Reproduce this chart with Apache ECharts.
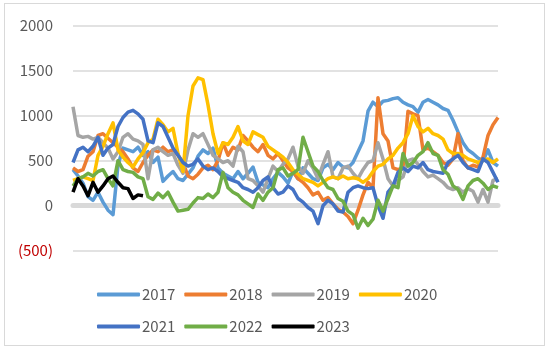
<!DOCTYPE html>
<html>
<head>
<meta charset="utf-8">
<script src="https://cdn.jsdelivr.net/npm/echarts@6/dist/echarts.min.js"></script>
<style>
html,body{margin:0;padding:0;background:#fff;}
#frame{position:absolute;left:4px;top:3px;width:541px;height:343px;border:1px solid #D9D9D9;box-sizing:border-box;}
#c{position:absolute;left:0;top:0;width:550px;height:351px;}
</style>
</head>
<body>
<div id="frame"></div>
<div id="c"></div>
<script>
var years = ['2017','2018','2019','2020','2021','2022','2023'];
var yTicks = [-500, 0, 500, 1000, 1500, 2000];
var s2017 = [400,330,250,100,60,150,40,-50,-100,450,640,620,600,650,560,600,480,540,270,330,380,300,280,350,420,550,620,580,640,420,360,330,300,380,300,360,430,260,230,200,300,370,320,250,380,300,420,360,300,280,420,460,400,480,430,420,480,600,720,1050,1150,1100,1160,1170,1190,1200,1150,1120,1100,1040,1150,1180,1150,1120,1080,1060,950,820,700,620,580,530,500,620,480,440];
var s2018 = [420,380,400,550,600,780,800,750,700,650,600,520,420,380,480,560,620,600,650,600,620,560,480,330,300,350,420,450,400,500,700,560,650,620,780,720,650,600,680,560,520,580,500,420,380,300,260,200,120,150,60,90,20,-40,-70,-120,-200,-50,120,260,200,1200,800,720,420,400,420,1050,1020,1000,620,640,600,560,480,450,520,800,500,420,450,430,540,780,900,980];
var s2019 = [1100,780,760,770,740,760,700,640,520,600,760,800,740,720,680,300,620,650,600,560,580,450,360,620,800,760,800,680,560,520,480,500,440,660,600,300,280,220,150,300,440,380,460,520,650,440,360,500,420,300,460,600,320,300,420,440,360,300,400,480,500,700,520,300,220,280,320,500,520,460,380,320,340,300,260,200,180,200,150,190,160,40,180,40,280,300];
var s2020 = [280,300,320,300,280,560,660,800,920,620,540,480,430,520,590,700,740,960,900,820,860,580,380,1000,1330,1420,1400,1120,800,580,700,680,760,880,720,680,820,790,760,660,620,580,540,480,400,350,300,280,260,220,260,300,320,300,330,300,310,300,260,300,380,440,460,520,560,640,700,800,1000,880,820,860,800,780,740,620,580,580,560,520,500,480,500,520,480,520];
var s2021 = [480,620,650,600,660,760,560,640,680,880,980,1040,1060,1020,960,720,700,920,880,760,640,560,480,440,460,520,440,400,420,380,320,300,280,260,200,180,150,200,280,320,200,130,150,220,180,80,40,-20,-60,-200,0,60,20,-60,-70,150,200,220,200,190,200,0,-140,150,220,370,420,380,440,420,480,400,380,370,360,480,520,560,480,420,400,380,520,480,370,260];
var s2022 = [220,300,320,360,330,380,400,300,220,500,400,380,370,320,300,100,70,140,90,150,40,-60,-50,-40,30,90,80,130,90,150,370,200,150,120,60,20,-20,130,60,150,200,400,420,330,360,400,760,600,440,380,280,200,180,80,50,-60,-100,-250,-140,-220,-150,60,-60,80,220,200,580,440,480,560,600,700,580,560,400,350,220,180,70,220,280,300,250,180,220,200];
var s2023 = [150,300,220,110,260,150,220,300,330,260,200,190,80,120,110];
var colors = ['#5B9BD5','#ED7D31','#A5A5A5','#FFC000','#4472C4','#70AD47','#000000'];
var allData = [s2017,s2018,s2019,s2020,s2021,s2022,s2023];
var cats = [];
for (var i = 0; i < s2017.length; i++) cats.push(i + 1);

var chart = echarts.init(document.getElementById('c'), null, {renderer:'canvas'});
var fam = '"Noto Sans CJK SC", "Noto Sans", sans-serif';
var legendCommon = {
  icon: 'roundRect', itemWidth: 43, itemHeight: 4, itemGap: 9,
  textStyle: {color:'#595959', fontSize:15, fontFamily:fam, padding:[0,0,0,-3]},
  selectedMode: false
};
var series = years.map(function(y, k){
  return {
    name: y, type:'line', data: allData[k], symbol:'none', showSymbol:false, z: 3,
    lineStyle:{width:3.5, color: colors[k], join:'round'},
    itemStyle:{color: colors[k]}
  };
});
chart.setOption({
  animation: false,
  color: colors,
  grid: {left:73, right:52, top:25.7, bottom:100.3},
  xAxis: {
    type:'category', data: cats, boundaryGap:false, z: 1,
    axisLine:{show:true, onZero:true, lineStyle:{color:'#D9D9D9', width:5}},
    axisTick:{show:false}, axisLabel:{show:false}, splitLine:{show:false}
  },
  yAxis: {
    type:'value', min: yTicks[0], max: yTicks[yTicks.length-1], interval: 500, z: 0,
    axisLine:{show:false}, axisTick:{show:false},
    splitLine:{lineStyle:{color:'#D9D9D9', width:1.5}},
    axisLabel:{
      margin: 20,
      fontSize: 15, fontFamily: fam, color:'#595959',
      formatter: function(v){ return v < 0 ? '{neg|(' + Math.abs(v) + ')}' : '' + v; },
      rich: {neg:{color:'#C00000', fontSize:15, fontFamily: fam}}
    }
  },
  legend: [
    Object.assign({data: years.slice(0,4), left: 92, top: 282}, legendCommon),
    Object.assign({data: years.slice(4), left: 92, top: 314}, legendCommon)
  ],
  series: series
});
</script>
</body>
</html>
